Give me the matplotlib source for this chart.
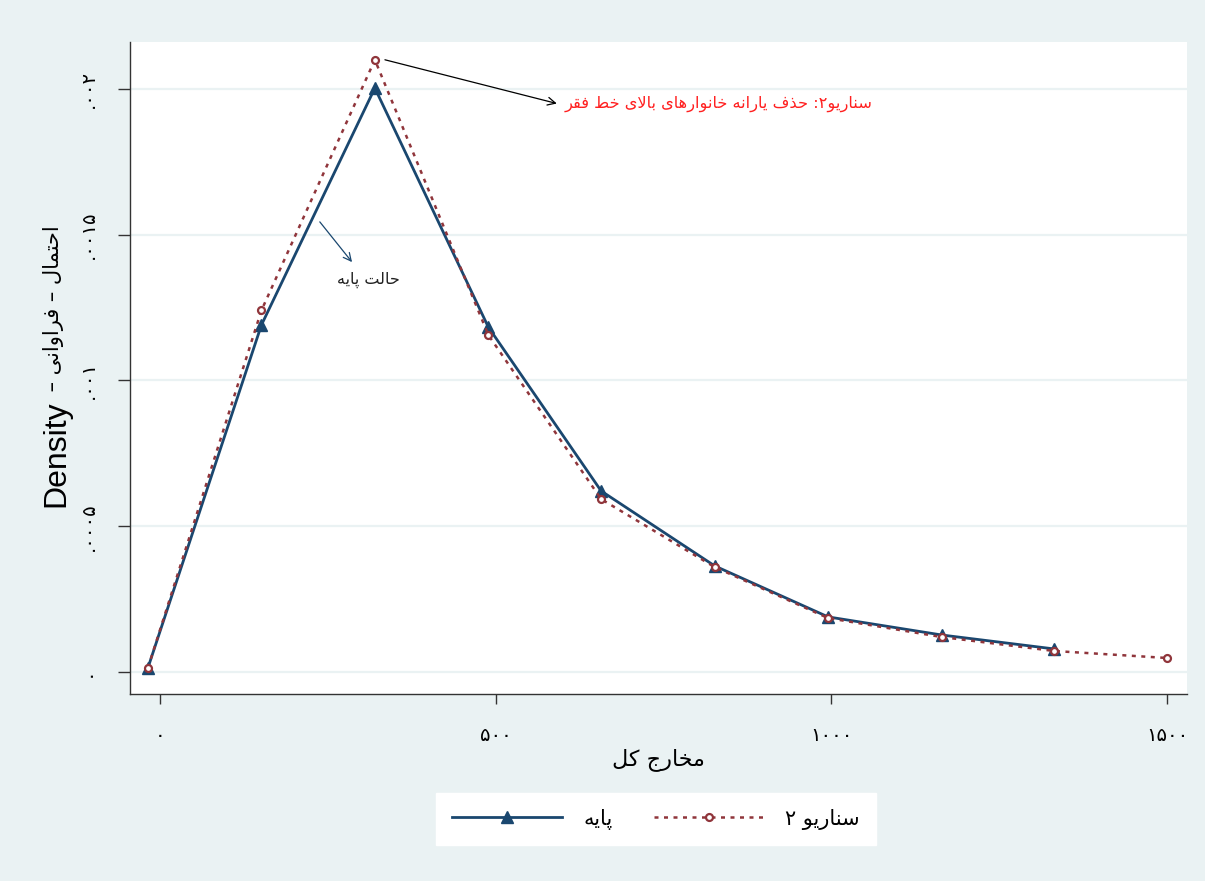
import matplotlib
matplotlib.use("Agg")
import matplotlib.pyplot as plt

# داده‌ها (از روی نمودار خوانده شده)
x_base = [-18, 151, 320, 489, 657, 826, 995, 1164, 1332]
y_base = [0.000014, 0.00119, 0.002003, 0.001183, 0.000621, 0.000364, 0.000189, 0.000127, 0.000079]

x_scen = [-18, 151, 320, 489, 657, 826, 995, 1164, 1332, 1500]
y_scen = [0.000014, 0.00124, 0.0021, 0.001156, 0.000593, 0.00036, 0.000185, 0.00012, 0.000072, 0.000048]

x_ticks = [0, 500, 1000, 1500]
x_ticklabels = ["۰", "۵۰۰", "۱۰۰۰", "۱۵۰۰"]
y_ticks = [0, 0.0005, 0.001, 0.0015, 0.002]
y_ticklabels = ["۰", ".۰۰۰۵", ".۰۰۱", ".۰۰۱۵", ".۰۰۲"]

label_base = "پایه"
label_scen = "سناریو ۲"
note_scen = "سناریو۲: حذف یارانه خانوارهای بالای خط فقر"
note_base = "حالت پایه"
x_title = "مخارج کل"
y_title_fa = ["فراوانی", "احتمال"]

BG = "#EAF2F3"
NAVY = "#1A476F"
MAROON = "#90353B"

# matplotlib حروف فارسی را به هم نمی‌چسباند، پس دستی شکل می‌دهیم
FORMS = {
    "ا": ("\uFE8D", "\uFE8E", None, None),
    "ب": ("\uFE8F", "\uFE90", "\uFE91", "\uFE92"),
    "پ": ("\uFB56", "\uFB57", "\uFB58", "\uFB59"),
    "ت": ("\uFE95", "\uFE96", "\uFE97", "\uFE98"),
    "ج": ("\uFE9D", "\uFE9E", "\uFE9F", "\uFEA0"),
    "ح": ("\uFEA1", "\uFEA2", "\uFEA3", "\uFEA4"),
    "خ": ("\uFEA5", "\uFEA6", "\uFEA7", "\uFEA8"),
    "د": ("\uFEA9", "\uFEAA", None, None),
    "ذ": ("\uFEAB", "\uFEAC", None, None),
    "ر": ("\uFEAD", "\uFEAE", None, None),
    "ز": ("\uFEAF", "\uFEB0", None, None),
    "س": ("\uFEB1", "\uFEB2", "\uFEB3", "\uFEB4"),
    "ط": ("\uFEC1", "\uFEC2", "\uFEC3", "\uFEC4"),
    "ف": ("\uFED1", "\uFED2", "\uFED3", "\uFED4"),
    "ق": ("\uFED5", "\uFED6", "\uFED7", "\uFED8"),
    "ک": ("\uFB8E", "\uFB8F", "\uFB90", "\uFB91"),
    "ل": ("\uFEDD", "\uFEDE", "\uFEDF", "\uFEE0"),
    "م": ("\uFEE1", "\uFEE2", "\uFEE3", "\uFEE4"),
    "ن": ("\uFEE5", "\uFEE6", "\uFEE7", "\uFEE8"),
    "ه": ("\uFEE9", "\uFEEA", "\uFEEB", "\uFEEC"),
    "و": ("\uFEED", "\uFEEE", None, None),
    "ی": ("\uFBFC", "\uFBFD", "\uFBFE", "\uFBFF"),
}


def fa(text):
    chars = list(text)
    n = len(chars)

    def dual(c):
        return c in FORMS and FORMS[c][2] is not None

    res = []
    i = 0
    while i < n:
        c = chars[i]
        prev = chars[i - 1] if i > 0 else None
        jp = prev is not None and dual(prev) and c in FORMS
        if c == "ل" and i + 1 < n and chars[i + 1] == "ا":
            res.append("\uFEFC" if jp else "\uFEFB")
            i += 2
            continue
        if c not in FORMS:
            res.append(c)
            i += 1
            continue
        nxt = chars[i + 1] if i + 1 < n else None
        jn = dual(c) and nxt is not None and nxt in FORMS
        iso, fin, ini, med = FORMS[c]
        if jp and jn:
            res.append(med)
        elif jp:
            res.append(fin)
        elif jn:
            res.append(ini)
        else:
            res.append(iso)
        i += 1
    return "".join(reversed(res))


plt.rcParams["font.family"] = ["DejaVu Sans"]

fig = plt.figure(figsize=(12.05, 8.81), dpi=100, facecolor=BG)
ax = fig.add_axes([130 / 1205, 1 - 694 / 881, 1057 / 1205, 652 / 881])
ax.set_facecolor("white")

ax.plot(x_base, y_base, color=NAVY, lw=2, marker="^", ms=8, label=fa(label_base), zorder=3)
ax.plot(x_scen, y_scen, color=MAROON, lw=1.8, ls=(0, (1.6, 2.2)), marker="o", ms=5,
        mfc="white", mec=MAROON, mew=1.6, label=fa(label_scen), zorder=4)

ax.set_xlim(-44.7, 1529.6)
ax.set_ylim(-0.0000755, 0.002161)

ax.set_xticks(x_ticks)
ax.set_xticklabels(x_ticklabels, fontsize=14)
ax.set_yticks(y_ticks)
ax.set_yticklabels(y_ticklabels, fontsize=14, rotation=90, va="center")
ax.tick_params(axis="x", length=7, width=1, color="#333333", pad=16)
ax.tick_params(axis="y", length=9, width=1, color="#333333", pad=14)

ax.grid(axis="y", color=BG, lw=1.6, zorder=0)
ax.set_axisbelow(True)
for s in ["top", "right"]:
    ax.spines[s].set_visible(False)
for s in ["left", "bottom"]:
    ax.spines[s].set_color("#333333")
    ax.spines[s].set_linewidth(1)

ax.set_xlabel(fa(x_title), fontsize=16, labelpad=2)

# عنوان محور عمودی
fig.text(56 / 1205, 1 - 507 / 881, "Density", rotation=90, ha="center", va="bottom",
         fontsize=23, family=["Liberation Sans", "DejaVu Sans"])
fig.text(53 / 1205, 1 - 398 / 881, " – " + fa(y_title_fa[0]) + " – " + fa(y_title_fa[1]),
         rotation=90, ha="center", va="bottom", fontsize=15)

# توضیحات روی نمودار
ax.annotate("", xy=(591, 0.00195), xytext=(335, 0.0021),
            arrowprops=dict(arrowstyle="->", color="black", lw=0.9, shrinkA=0, shrinkB=0,
                            mutation_scale=14))
ax.text(603, 0.00195, fa(note_scen), color="#FF2020", fontsize=11.7, ha="left", va="center")
ax.annotate("", xy=(286, 0.001406), xytext=(238, 0.001544),
            arrowprops=dict(arrowstyle="->", color=NAVY, lw=0.9, shrinkA=0, shrinkB=0,
                            mutation_scale=14))
ax.text(310, 0.001345, fa(note_base), color="#222222", fontsize=11.5, ha="center", va="center")

leg = fig.legend(loc="center", bbox_to_anchor=(656 / 1205, 1 - 819 / 881), ncol=2,
                 fontsize=15, handlelength=5.3, columnspacing=2.0, handletextpad=1.0,
                 frameon=True, fancybox=False, borderpad=0.75, framealpha=1)
leg.get_frame().set_facecolor("white")
leg.get_frame().set_edgecolor("white")

fig.savefig("out.png", dpi=100, facecolor=BG)
